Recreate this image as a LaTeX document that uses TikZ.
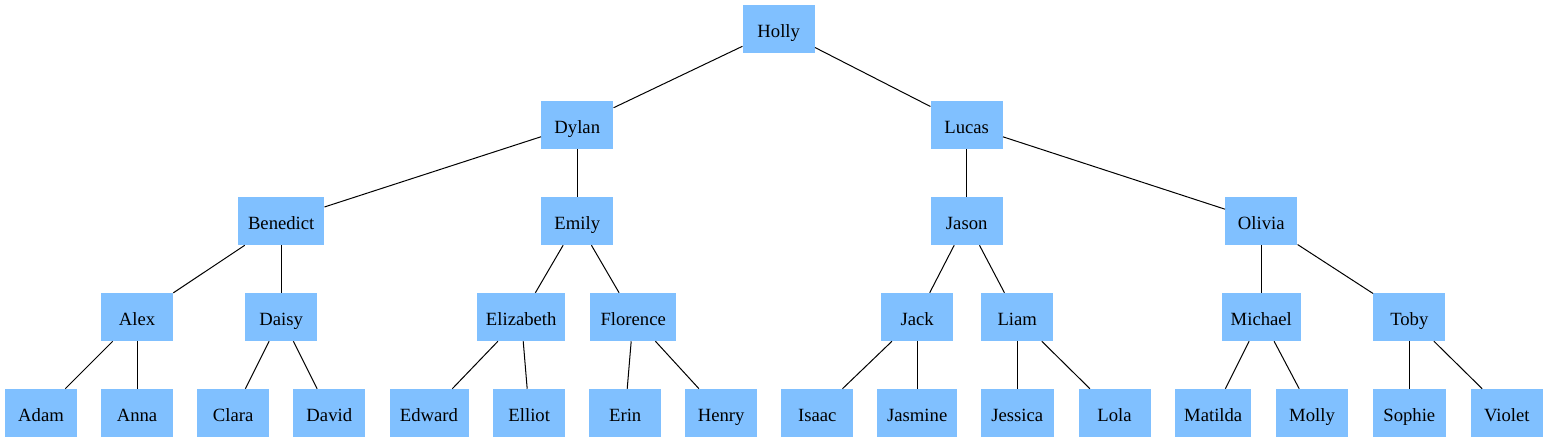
\documentclass[tikz,border=0pt]{standalone}
\usepackage{fontspec}
\setmainfont{Liberation Serif}
\definecolor{boxblue}{RGB}{128,192,255}
\begin{document}
\begin{tikzpicture}[x=0.75pt,y=-0.75pt,
  person/.style={fill=boxblue,draw=none,inner sep=0pt,minimum width=54pt,minimum height=36pt,text height=12pt,text depth=0pt,font=\fontsize{14pt}{16pt}\selectfont},
  link/.style={draw=black,line width=0.75pt}]
\useasboundingbox (0,0) rectangle (1548,443);
% row 1
\node[person] (holly) at (778.7,29) {Holly};
% row 2
\node[person] (dylan) at (577.3,125) {Dylan};
\node[person] (lucas) at (966.7,125) {Lucas};
% row 3
\node[person,minimum width=64.5pt] (benedict) at (281.2,221) {Benedict};
\node[person] (emily) at (577.3,221) {Emily};
\node[person] (jason) at (966.7,221) {Jason};
\node[person] (olivia) at (1261.3,221) {Olivia};
% row 4
\node[person] (alex) at (137,317) {Alex};
\node[person] (daisy) at (281.2,317) {Daisy};
\node[person,minimum width=66pt] (elizabeth) at (521.2,317) {Elizabeth};
\node[person,minimum width=64.5pt] (florence) at (633.2,317) {Florence};
\node[person] (jack) at (917.2,317) {Jack};
\node[person] (liam) at (1017.2,317) {Liam};
\node[person,minimum width=59.25pt] (michael) at (1261.3,317) {Michael};
\node[person] (toby) at (1409.3,317) {Toby};
% row 5
\node[person] (adam) at (41,413) {Adam};
\node[person] (anna) at (137,413) {Anna};
\node[person] (clara) at (233.2,413) {Clara};
\node[person] (david) at (329.3,413) {David};
\node[person,minimum width=59.25pt] (edward) at (429,413) {Edward};
\node[person] (elliot) at (529.2,413) {Elliot};
\node[person] (erin) at (625.2,413) {Erin};
\node[person] (henry) at (721.2,413) {Henry};
\node[person] (isaac) at (817.2,413) {Isaac};
\node[person,minimum width=60pt] (jasmine) at (917.2,413) {Jasmine};
\node[person,minimum width=54.75pt] (jessica) at (1017.2,413) {Jessica};
\node[person] (lola) at (1114.5,413) {Lola};
\node[person,minimum width=57pt] (matilda) at (1213.2,413) {Matilda};
\node[person] (molly) at (1312,413) {Molly};
\node[person,minimum width=54.75pt] (sophie) at (1409.3,413) {Sophie};
\node[person] (violet) at (1506.8,413) {Violet};
% links
\draw[link] (holly) -- (dylan);
\draw[link] (holly) -- (lucas);
\draw[link] (dylan) -- (benedict);
\draw[link] (dylan) -- (emily);
\draw[link] (lucas) -- (jason);
\draw[link] (lucas) -- (olivia);
\draw[link] (benedict) -- (alex);
\draw[link] (benedict) -- (daisy);
\draw[link] (emily) -- (elizabeth);
\draw[link] (emily) -- (florence);
\draw[link] (jason) -- (jack);
\draw[link] (jason) -- (liam);
\draw[link] (olivia) -- (michael);
\draw[link] (olivia) -- (toby);
\draw[link] (alex) -- (adam);
\draw[link] (alex) -- (anna);
\draw[link] (daisy) -- (clara);
\draw[link] (daisy) -- (david);
\draw[link] (elizabeth) -- (edward);
\draw[link] (elizabeth) -- (elliot);
\draw[link] (florence) -- (erin);
\draw[link] (florence) -- (henry);
\draw[link] (jack) -- (isaac);
\draw[link] (jack) -- (jasmine);
\draw[link] (liam) -- (jessica);
\draw[link] (liam) -- (lola);
\draw[link] (michael) -- (matilda);
\draw[link] (michael) -- (molly);
\draw[link] (toby) -- (sophie);
\draw[link] (toby) -- (violet);
\end{tikzpicture}
\end{document}
